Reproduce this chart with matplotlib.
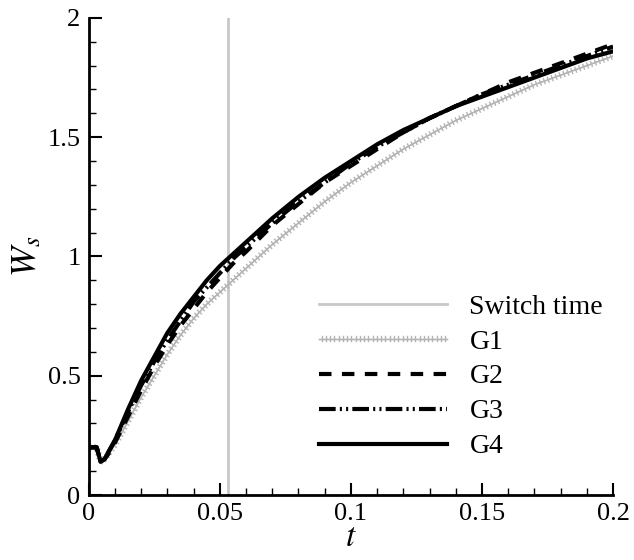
import numpy as np
import matplotlib.pyplot as plt
import matplotlib.patheffects as pe
from matplotlib.ticker import MultipleLocator, FixedFormatter, FixedLocator

# time samples
t = [0.0, 0.003, 0.0045, 0.006, 0.008, 0.01, 0.015, 0.02, 0.025, 0.03, 0.035, 0.04,
     0.045, 0.05, 0.055, 0.06, 0.07, 0.08, 0.09, 0.1, 0.11, 0.12, 0.13, 0.14,
     0.15, 0.16, 0.17, 0.18, 0.19, 0.2]

g1 = [0.2, 0.2, 0.14, 0.15, 0.18, 0.21, 0.31, 0.41, 0.50, 0.59, 0.67, 0.74,
      0.80, 0.85, 0.90, 0.95, 1.05, 1.14, 1.23, 1.31, 1.38, 1.45, 1.51, 1.57,
      1.62, 1.67, 1.72, 1.76, 1.80, 1.84]
g2 = [0.2, 0.2, 0.14, 0.15, 0.18, 0.22, 0.33, 0.44, 0.54, 0.63, 0.71, 0.78,
      0.85, 0.91, 0.97, 1.02, 1.13, 1.22, 1.31, 1.38, 1.45, 1.52, 1.58, 1.63,
      1.68, 1.73, 1.77, 1.81, 1.85, 1.89]
g3 = [0.2, 0.2, 0.14, 0.15, 0.19, 0.23, 0.35, 0.46, 0.56, 0.65, 0.73, 0.81,
      0.87, 0.93, 0.99, 1.04, 1.14, 1.23, 1.31, 1.39, 1.46, 1.52, 1.58, 1.63,
      1.68, 1.72, 1.76, 1.80, 1.84, 1.88]
g4 = [0.2, 0.2, 0.14, 0.15, 0.19, 0.23, 0.36, 0.48, 0.58, 0.68, 0.76, 0.83,
      0.90, 0.96, 1.01, 1.06, 1.16, 1.25, 1.33, 1.40, 1.47, 1.53, 1.58, 1.63,
      1.67, 1.71, 1.75, 1.79, 1.83, 1.86]

switch_t = 0.053

plt.rcParams['font.family'] = ['Liberation Serif', 'DejaVu Serif']
plt.rcParams['mathtext.fontset'] = 'stix'

fig = plt.figure(figsize=(6.34, 5.6), dpi=100)
ax = fig.add_axes([0.140, 0.116, 0.827, 0.852])

# hatched look of the G1 line
hatch = [pe.withTickedStroke(spacing=3, angle=90, length=0.6),
         pe.withTickedStroke(spacing=3, angle=-90, length=0.6)]

ax.axvline(switch_t, color='#c8c8c8', lw=2, label='Switch time')
ax.plot(t, g1, color='#b4b4b4', lw=1.0, path_effects=hatch, label='G1')
ax.plot(t, g2, color='black', lw=3, ls=(0, (3, 2.5)), label='G2')
ax.plot(t, g3, color='black', lw=3, ls=(0, (4, 1, 0.5, 1, 0.5, 1)), label='G3')
ax.plot(t, g4, color='black', lw=3, label='G4')

ax.set_xlim(0, 0.2)
ax.set_ylim(0, 2)
ax.xaxis.set_major_locator(FixedLocator([0, 0.05, 0.1, 0.15, 0.2]))
ax.xaxis.set_major_formatter(FixedFormatter(['0', '0.05', '0.1', '0.15', '0.2']))
ax.xaxis.set_minor_locator(MultipleLocator(0.01))
ax.yaxis.set_major_locator(FixedLocator([0, 0.5, 1, 1.5, 2]))
ax.yaxis.set_major_formatter(FixedFormatter(['0', '0.5', '1', '1.5', '2']))
ax.yaxis.set_minor_locator(MultipleLocator(0.1))

for s in ['top', 'right']:
    ax.spines[s].set_visible(False)
for s in ['left', 'bottom']:
    ax.spines[s].set_linewidth(2)

ax.tick_params(which='major', direction='in', length=9, width=1.5, labelsize=19, pad=6)
ax.tick_params(which='minor', direction='in', length=5, width=1)

ax.set_xlabel('$t$', fontsize=24, labelpad=-2)
ax.set_ylabel('$W_s$', fontsize=26, labelpad=2)

ax.legend(loc='lower left', bbox_to_anchor=(0.44, 0.075), frameon=False, fontsize=20,
          handlelength=4.6, handletextpad=0.8, labelspacing=0.34,
          borderpad=0, borderaxespad=0)

fig.savefig('out.png', dpi=100)
